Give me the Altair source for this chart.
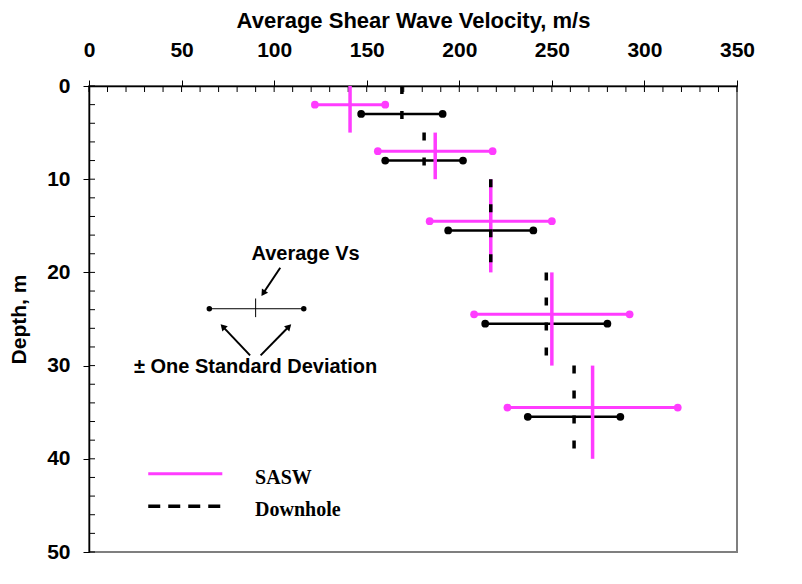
import math
import altair as alt
import pandas as pd

# ---------------- data ----------------
methods = ["SASW", "Downhole"]
method_colors = ["#ff3cff", "#000000"]

layer_top = [0, 5, 10, 20, 30]
layer_bot = [5, 10, 20, 30, 40]

sasw_mean = [141, 187, 217, 250, 272]
sasw_std = [19, 31, 33, 42, 46]
sasw_depth = [2, 7, 14.5, 24.5, 34.5]

dh_mean = [169, 181, 217, 247, 262]
dh_std = [22, 21, 23, 33, 25]
dh_depth = [3, 8, 15.5, 25.5, 35.5]

x_ticks = list(range(0, 351, 50))
x_minor = list(range(0, 351, 10))
y_ticks = list(range(0, 51, 10))
y_minor = list(range(0, 51, 2))

# explanatory key (data coordinates)
key_lo, key_hi, key_mid, key_depth = 65, 116, 90, 23.9
key_tick_top, key_tick_bot = 22.8, 24.8
note_text = ["Average Vs", "\u00b1 One Standard Deviation"]
note_x = [117, 90]
note_y = [18.0, 30.1]
arrow_x0 = [103.3, 87.0, 92.7]
arrow_y0 = [19.5, 28.9, 28.9]
arrow_x1 = [92.9, 70.8, 109.5]
arrow_y1 = [22.6, 25.5, 25.5]

# legend (data coordinates)
legend_x0, legend_x1, legend_label_x = 32, 72, 89.7
legend_y = [41.6, 45.1]

# ---------------- tables ----------------
rows = []
for m, means, stds, depths in [("SASW", sasw_mean, sasw_std, sasw_depth),
                               ("Downhole", dh_mean, dh_std, dh_depth)]:
    for i in range(len(means)):
        rows.append(dict(method=m, mean=means[i], lo=means[i] - stds[i],
                         hi=means[i] + stds[i], depth=depths[i],
                         top=layer_top[i], bot=layer_bot[i]))
df = pd.DataFrame(rows)
df_s = df[df.method == "SASW"]
df_d = df[df.method == "Downhole"]

W, H = 648, 466
XMAX, YMAX = 350, 50
ppx, ppy = W / XMAX, H / YMAX

arr = []
for x0, y0, x1, y1 in zip(arrow_x0, arrow_y0, arrow_x1, arrow_y1):
    dx, dy = (x1 - x0) * ppx, (y1 - y0) * ppy
    L = math.hypot(dx, dy)
    ux, uy = dx / L, dy / L
    ang = math.degrees(math.atan2(dx, -dy)) % 360
    hx = x1 - 4 * ux / ppx
    hy = y1 - 4 * uy / ppy
    arr.append(dict(x0=x0, y0=y0, hx=hx, hy=hy, ang=ang))
df_arrow = pd.DataFrame(arr)

df_key = pd.DataFrame({"lo": [key_lo], "hi": [key_hi], "mid": [key_mid], "d": [key_depth],
                       "t0": [key_tick_top], "t1": [key_tick_bot]})
df_key_pts = pd.DataFrame({"x": [key_lo, key_hi], "d": [key_depth, key_depth]})
df_note = pd.DataFrame({"text": note_text, "x": note_x, "y": note_y})
df_leg = pd.DataFrame({"method": methods, "x0": [legend_x0] * 2, "x1": [legend_x1] * 2,
                       "lx": [legend_label_x] * 2, "y": legend_y})

# ---------------- scales / axes ----------------
FONT = "Liberation Sans"
xs = alt.Scale(domain=[0, XMAX], nice=False, zero=False)
ys = alt.Scale(domain=[0, YMAX], reverse=True, nice=False, zero=False)

xaxis = alt.Axis(orient="top", values=x_ticks, title="Average Shear Wave Velocity, m/s",
                 titleFont=FONT, titleFontSize=22, titleFontWeight="bold", titleColor="black",
                 titleY=-59, titleBaseline="alphabetic",
                 labelFont=FONT, labelFontSize=21, labelFontWeight="bold",
                 labelColor="black", labelPadding=20, labelFlush=False, tickSize=6,
                 tickColor="black", tickWidth=1, domainColor="black", domainWidth=1.5,
                 grid=False, format="d")
yaxis = alt.Axis(orient="left", values=y_ticks, title="Depth, m",
                 titleFont=FONT, titleFontSize=21, titleFontWeight="bold", titleColor="black",
                 titleX=-64, titleBaseline="alphabetic",
                 labelFont=FONT, labelFontSize=21, labelFontWeight="bold",
                 labelColor="black", labelPadding=13, labelFlush=False, tickSize=6,
                 tickColor="black", tickWidth=1, domainColor="black", domainWidth=1.5,
                 grid=False, format="d")


def X(f):
    return alt.X(f, scale=xs, axis=xaxis)


def Y(f):
    return alt.Y(f, scale=ys, axis=yaxis)


MAG, BLK = method_colors

horiz_s = alt.Chart(df_s).mark_rule(color=MAG, strokeWidth=3).encode(
    x=X("lo:Q"), x2="hi:Q", y=Y("depth:Q"))
horiz_d = alt.Chart(df_d).mark_rule(color=BLK, strokeWidth=2.5).encode(
    x=X("lo:Q"), x2="hi:Q", y=Y("depth:Q"))

dots_s = alt.Chart(df_s).transform_fold(["lo", "hi"], as_=["end", "xv"]).mark_circle(
    size=60, opacity=1, color=MAG).encode(x=X("xv:Q"), y=Y("depth:Q"))
dots_d = alt.Chart(df_d).transform_fold(["lo", "hi"], as_=["end", "xv"]).mark_circle(
    size=60, opacity=1, color=BLK).encode(x=X("xv:Q"), y=Y("depth:Q"))

vert_s = alt.Chart(df_s).mark_rule(color=MAG, strokeWidth=3.5).encode(
    x=X("mean:Q"), y=Y("top:Q"), y2="bot:Q")
vert_d = alt.Chart(df_d).mark_rule(color=BLK, strokeWidth=3.5, strokeDash=[8, 17]).encode(
    x=X("mean:Q"), y=Y("top:Q"), y2="bot:Q")

leg_sasw = alt.Chart(df_leg).transform_filter(alt.datum.method == "SASW").mark_rule(
    color=MAG, strokeWidth=3).encode(x=X("x0:Q"), x2="x1:Q", y=Y("y:Q"))
leg_dh = alt.Chart(df_leg).transform_filter(alt.datum.method == "Downhole").mark_rule(
    color=BLK, strokeWidth=3.5, strokeDash=[12, 8]).encode(x=X("x0:Q"), x2="x1:Q", y=Y("y:Q"))
leg_text = alt.Chart(df_leg).mark_text(font="Liberation Serif", fontSize=20, fontWeight="bold",
                                       color="black", align="left", baseline="middle", dy=4).encode(
    x=X("lx:Q"), y=Y("y:Q"), text="method:N")

minor_x = alt.Chart(pd.DataFrame({"v": x_minor})).mark_rule(color="black", strokeWidth=1).encode(
    x=X("v:Q"), y=alt.value(0), y2=alt.value(6))
minor_y = alt.Chart(pd.DataFrame({"v": y_minor})).mark_rule(color="black", strokeWidth=1).encode(
    y=Y("v:Q"), x=alt.value(0), x2=alt.value(6))

key_line = alt.Chart(df_key).mark_rule(color="black", strokeWidth=1).encode(
    x=X("lo:Q"), x2="hi:Q", y=Y("d:Q"))
key_tick = alt.Chart(df_key).mark_rule(color="black", strokeWidth=1).encode(
    x=X("mid:Q"), y=Y("t0:Q"), y2="t1:Q")
key_pts = alt.Chart(df_key_pts).mark_circle(color="black", size=30, opacity=1).encode(
    x=X("x:Q"), y=Y("d:Q"))

arrow_lines = alt.Chart(df_arrow).mark_rule(color="black", strokeWidth=2).encode(
    x=X("x0:Q"), y=Y("y0:Q"), x2="hx:Q", y2="hy:Q")
arrow_heads = alt.Chart(df_arrow).mark_point(shape="triangle-up", filled=True, color="black",
                                             size=55, opacity=1).encode(
    x=X("hx:Q"), y=Y("hy:Q"), angle=alt.Angle("ang:Q", scale=None))

notes = alt.Chart(df_note).mark_text(font=FONT, fontSize=20, fontWeight="bold", color="black",
                                     align="center", baseline="middle").encode(
    x=X("x:Q"), y=Y("y:Q"), text="text:N")

chart = alt.layer(
    minor_x, minor_y, horiz_d, horiz_s, dots_d, dots_s, vert_s, vert_d,
    key_line, key_tick, key_pts, arrow_lines, arrow_heads, notes,
    leg_sasw, leg_dh, leg_text
).properties(
    width=W, height=H, autosize="none",
    padding={"left": 81, "top": 78, "right": 50, "bottom": 24},
    background="white",
).configure_view(stroke="#7f7f7f", strokeWidth=2)

chart.save("out.html", embed_options={"renderer": "svg", "actions": False})
